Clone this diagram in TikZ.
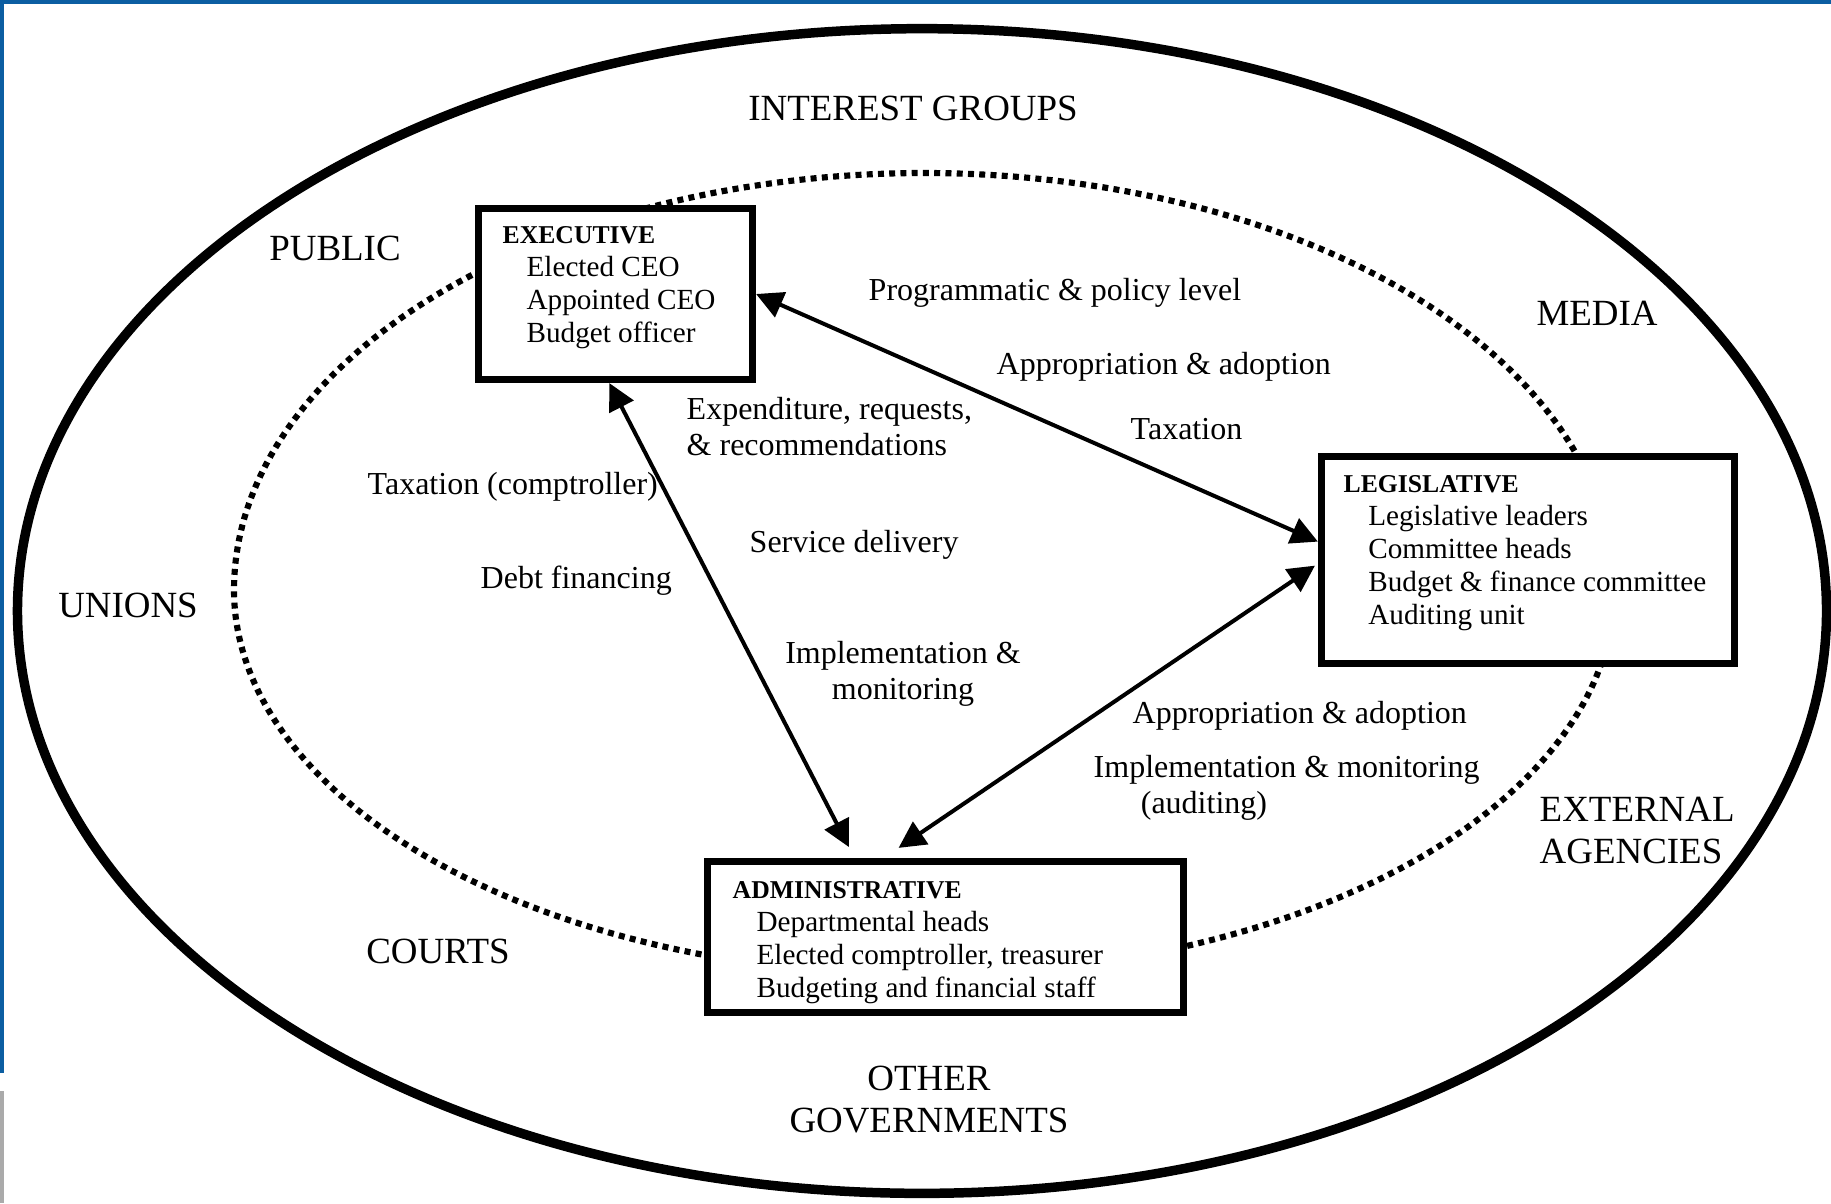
\documentclass[tikz,border=0pt]{standalone}
\usepackage{fontspec}
\setmainfont{Liberation Serif}
\usetikzlibrary{arrows.meta}
\definecolor{edgeblue}{RGB}{12,94,162}
\definecolor{edgegray}{RGB}{170,170,170}
\newcommand{\hdrfont}{\fontsize{7.3pt}{8pt}\selectfont\bfseries}
\begin{document}
\begin{tikzpicture}[x=0.01cm, y=-0.01cm,
  box/.style={draw, fill=white, line width=2pt, inner sep=0pt, rectangle},
  outerlbl/.style={font=\fontsize{10.5pt}{11.95pt}\selectfont, inner sep=0pt, anchor=base},
  lbl/.style={font=\fontsize{9.1pt}{10.5pt}\selectfont, inner sep=0pt, anchor=base west},
  boxtext/.style={font=\fontsize{8.3pt}{9.4pt}\selectfont, inner sep=0pt, anchor=base west},
  arr/.style={line width=1.14pt, {Triangle[length=7.6pt,width=7.6pt]}-{Triangle[length=7.6pt,width=7.6pt]}},
  dotline/.style={line width=1.75pt, dash pattern=on 1.7pt off 1.5pt},
]
\useasboundingbox (0,0) rectangle (1831,1203);
\fill[white] (0,0) rectangle (1831,1203);
% page edges
\fill[edgeblue] (0,0) rectangle (1831,4);
\fill[edgeblue] (0,0) rectangle (4,1073);
\fill[edgegray] (0,1091) rectangle (4,1203);

% outer ellipse
\draw[line width=2.7pt] (922,611) ellipse[x radius=9.04cm, y radius=5.82cm];
% inner dotted oval
\draw[dotline] plot[domain=0:360, samples=361]
  ({924+690*cos(\x)}, {590-(\x<=180 ? 417 : 385)*sin(\x)}) -- cycle;

% boxes
\node[box, minimum width=2.74cm, minimum height=1.71cm] (exec) at (615.5,294) {};
\node[box, minimum width=4.13cm, minimum height=2.07cm] (leg) at (1528,560) {};
\node[box, minimum width=4.76cm, minimum height=1.51cm] (admin) at (945.5,937) {};

\node[boxtext] (exectext) at (502,243) {\begin{tabular}[t]{@{}l@{}}{\hdrfont EXECUTIVE}\\
  \hspace*{6.8pt}Elected CEO\\ \hspace*{6.8pt}Appointed CEO\\ \hspace*{6.8pt}Budget officer\end{tabular}};
\node[boxtext] (legtext) at (1343,492) {\begin{tabular}[t]{@{}l@{}}{\hdrfont LEGISLATIVE}\\
  \hspace*{7pt}Legislative leaders\\ \hspace*{7pt}Committee heads\\ \hspace*{7pt}Budget \& finance committee\\ \hspace*{7pt}Auditing unit\end{tabular}};
\node[boxtext] (admintext) at (732,898) {\begin{tabular}[t]{@{}l@{}}{\hdrfont ADMINISTRATIVE}\\
  \hspace*{6.8pt}Departmental heads\\ \hspace*{6.8pt}Elected comptroller, treasurer\\ \hspace*{6.8pt}Budgeting and financial staff\end{tabular}};

% connectors
\draw[arr] (exec.east) -- (leg.175.1);
\draw[arr, shorten >=3.5pt] (exec.266.5) -- (admin.139.3);
\draw[arr, shorten <=1pt, shorten >=5.1pt] (leg.181.6) -- (admin.128.4);

% outer labels
\node[outerlbl] (interest) at (913,120) {INTEREST GROUPS};
\node[outerlbl] (public) at (335,260) {PUBLIC};
\node[outerlbl] (media) at (1597,325) {MEDIA};
\node[outerlbl] (unions) at (128,617) {UNIONS};
\node[outerlbl] (courts) at (438,963) {COURTS};
\node[outerlbl] (othergov) at (929,1090) {\begin{tabular}[t]{@{}c@{}}OTHER\\GOVERNMENTS\end{tabular}};
\node[outerlbl, anchor=base west] (external) at (1539,821) {\begin{tabular}[t]{@{}l@{}}EXTERNAL\\AGENCIES\end{tabular}};

% inner labels
\node[lbl] (progpol) at (868,300) {Programmatic \& policy level};
\node[lbl] (approp1) at (996,374) {Appropriation \& adoption};
\node[lbl] (tax1) at (1130,439) {Taxation};
\node[lbl] (expend) at (686,419) {\begin{tabular}[t]{@{}l@{}}Expenditure, requests,\\\& recommendations\end{tabular}};
\node[lbl] (taxcomp) at (367,494) {Taxation (comptroller)};
\node[lbl] (service) at (749,552) {Service delivery};
\node[lbl] (debt) at (480,588) {Debt financing};
\node[lbl, anchor=base] (implmon) at (903,663) {\begin{tabular}[t]{@{}c@{}}Implementation \&\\monitoring\end{tabular}};
\node[lbl] (approp2) at (1132,723) {Appropriation \& adoption};
\node[lbl, font=\fontsize{9.1pt}{10.24pt}\selectfont] (implaud) at (1093,777) {\begin{tabular}[t]{@{}l@{}}Implementation \& monitoring\\\hspace*{13.4pt}(auditing)\end{tabular}};
\end{tikzpicture}
\end{document}
